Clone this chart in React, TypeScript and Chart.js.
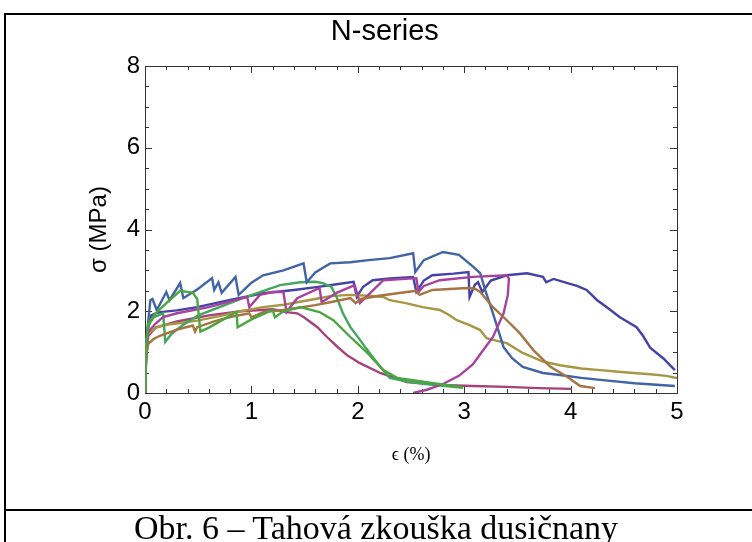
import React, { useEffect, useRef } from "react";
import { Chart, registerables } from "chart.js";

Chart.register(...registerables);

// ---- data (ε in %, σ in MPa) ----
const indigoX = [0, 0.01, 0.03, 0.06, 0.1, 0.14, 0.3, 0.49, 0.8, 1.11, 1.4, 1.61, 1.8, 1.96, 1.99, 2.05, 2.14, 2.3, 2.52, 2.55, 2.62, 2.7, 2.9, 3.04, 3.05, 3.1, 3.13, 3.17, 3.25, 3.4, 3.59, 3.74, 3.77, 3.84, 3.97, 4.06, 4.15, 4.25, 4.35, 4.46, 4.62, 4.68, 4.75, 4.87, 4.98];
const indigoY = [0, 1.0, 1.6, 1.9, 1.95, 1.98, 2.02, 2.1, 2.28, 2.44, 2.52, 2.59, 2.66, 2.72, 2.35, 2.6, 2.76, 2.8, 2.84, 2.47, 2.75, 2.88, 2.92, 2.96, 2.35, 2.65, 2.71, 2.47, 2.75, 2.88, 2.93, 2.84, 2.71, 2.79, 2.69, 2.62, 2.52, 2.27, 2.08, 1.86, 1.61, 1.4, 1.1, 0.85, 0.56];

const maroonX = [0, 0.01, 0.03, 0.1, 0.3, 0.6, 0.9, 1.2, 1.33, 1.43, 1.49, 1.62, 1.71, 1.8, 1.9, 2.02, 2.21, 2.46, 2.77, 3.08, 3.4, 3.7, 4.01];
const maroonY = [0, 0.9, 1.4, 1.6, 1.75, 1.9, 2.0, 2.05, 1.98, 1.95, 1.86, 1.61, 1.37, 1.15, 0.92, 0.73, 0.49, 0.27, 0.2, 0.17, 0.15, 0.12, 0.1];

const oliveX = [0, 0.01, 0.03, 0.1, 0.2, 0.35, 0.49, 0.7, 0.9, 1.11, 1.3, 1.43, 1.6, 1.74, 1.93, 2.1, 2.24, 2.3, 2.45, 2.61, 2.77, 2.85, 2.93, 3.05, 3.15, 3.21, 3.3, 3.4, 3.55, 3.74, 3.9, 4.1, 4.28, 4.45, 4.59, 4.75, 4.9, 4.97, 5.0];
const oliveY = [0, 1.0, 1.45, 1.6, 1.67, 1.72, 1.77, 1.88, 2.0, 2.1, 2.16, 2.22, 2.3, 2.37, 2.4, 2.38, 2.35, 2.27, 2.2, 2.1, 2.03, 1.92, 1.78, 1.66, 1.54, 1.34, 1.28, 1.22, 0.98, 0.77, 0.68, 0.6, 0.56, 0.52, 0.49, 0.46, 0.42, 0.38, 0.37];

const greenAX = [0, 0.01, 0.03, 0.08, 0.17, 0.19, 0.25, 0.35, 0.5, 0.7, 0.9, 1.08, 1.27, 1.46, 1.6, 1.67, 1.75, 1.8, 1.86, 1.93, 2.02, 2.11, 2.21, 2.3, 2.49, 2.7, 2.99];
const greenAY = [0, 1.1, 1.65, 1.85, 1.95, 1.25, 1.45, 1.65, 1.9, 2.1, 2.3, 2.47, 2.64, 2.71, 2.72, 2.69, 2.6, 2.35, 1.95, 1.61, 1.3, 0.98, 0.64, 0.37, 0.27, 0.2, 0.13];

const blueX = [0, 0.02, 0.05, 0.07, 0.11, 0.2, 0.23, 0.33, 0.36, 0.5, 0.63, 0.65, 0.69, 0.72, 0.85, 0.88, 1.0, 1.11, 1.3, 1.49, 1.52, 1.6, 1.74, 1.93, 2.1, 2.3, 2.52, 2.54, 2.62, 2.8, 2.95, 3.08, 3.15, 3.2, 3.27, 3.37, 3.45, 3.55, 3.74, 3.9, 4.1, 4.28, 4.6, 4.98];
const blueY = [0, 1.5, 2.27, 2.3, 2.03, 2.47, 2.27, 2.69, 2.32, 2.55, 2.81, 2.52, 2.71, 2.45, 2.84, 2.4, 2.7, 2.88, 3.0, 3.17, 2.71, 2.95, 3.17, 3.2, 3.25, 3.3, 3.42, 2.96, 3.25, 3.45, 3.38, 3.1, 2.93, 2.5, 1.95, 1.12, 0.85, 0.64, 0.49, 0.44, 0.37, 0.32, 0.24, 0.17];

const magentaX = [0, 0.01, 0.03, 0.1, 0.17, 0.3, 0.6, 0.96, 0.98, 1.08, 1.2, 1.3, 1.33, 1.43, 1.64, 1.66, 1.8, 1.97, 2.02, 2.24, 2.55, 2.57, 2.62, 2.77, 3.08, 3.4, 3.42, 3.41, 3.37, 3.27, 3.15, 3.08, 2.95, 2.8, 2.65, 2.52];
const magentaY = [0, 1.0, 1.5, 1.7, 1.86, 1.95, 2.1, 2.35, 2.1, 2.4, 2.47, 2.47, 1.98, 2.32, 2.57, 2.22, 2.45, 2.64, 2.2, 2.76, 2.81, 2.47, 2.62, 2.76, 2.84, 2.88, 2.8, 2.4, 1.95, 1.37, 0.95, 0.7, 0.42, 0.22, 0.08, 0.0];

const brownX = [0, 0.01, 0.03, 0.08, 0.14, 0.3, 0.45, 0.47, 0.49, 0.65, 0.8, 0.98, 1.0, 1.11, 1.3, 1.43, 1.6, 1.74, 1.93, 1.98, 2.03, 2.2, 2.46, 2.55, 2.58, 2.7, 3.03, 3.1, 3.15, 3.27, 3.4, 3.52, 3.65, 3.81, 3.97, 4.09, 4.23];
const brownY = [0, 0.9, 1.2, 1.32, 1.4, 1.55, 1.65, 1.5, 1.61, 1.75, 1.86, 1.95, 1.85, 1.98, 2.03, 2.08, 2.15, 2.22, 2.32, 2.2, 2.3, 2.38, 2.47, 2.5, 2.4, 2.52, 2.57, 2.55, 2.47, 2.1, 1.78, 1.47, 1.05, 0.64, 0.39, 0.17, 0.12];

const greenBX = [0, 0.01, 0.03, 0.1, 0.2, 0.33, 0.45, 0.49, 0.52, 0.6, 0.75, 0.86, 0.87, 1.0, 1.2, 1.22, 1.3, 1.46, 1.64, 1.77, 1.93, 2.09, 2.24, 2.37, 2.55, 2.71, 2.99];
const greenBY = [0, 1.2, 1.7, 1.95, 2.2, 2.5, 2.45, 2.3, 1.5, 1.6, 1.82, 1.98, 1.61, 1.8, 2.03, 1.85, 2.0, 2.1, 1.98, 1.78, 1.37, 0.98, 0.56, 0.37, 0.3, 0.24, 0.14];

const seriesColors = ["#4442a6", "#a6427b", "#a69742", "#42a65c", "#4263a6", "#a6429e", "#a67342", "#4ba642"];
const seriesXs = [indigoX, maroonX, oliveX, greenAX, blueX, magentaX, brownX, greenBX];
const seriesYs = [indigoY, maroonY, oliveY, greenAY, blueY, magentaY, brownY, greenBY];

const chartTitle = "N-series";
const xTitle = "ϵ (%)";
const yTitle = "σ (MPa)";
const caption = "Obr. 6 – Tahová zkouška dusičnany";

const SANS = '"Liberation Sans", Arial, Helvetica, sans-serif';
const SERIF = '"Liberation Serif", "Times New Roman", serif';

const frameTicks = {
  id: "frameTicks",
  beforeDatasetsDraw(chart: any) {
    const { ctx, chartArea: a, scales } = chart;
    const xs = scales.x;
    const ys = scales.y;
    ctx.save();
    ctx.strokeStyle = "#333";
    ctx.lineWidth = 1;
    ctx.strokeRect(Math.round(a.left) + 0.5, Math.round(a.top) + 0.5, Math.round(a.right - a.left), Math.round(a.bottom - a.top));
    ctx.beginPath();
    for (let i = 0; i <= 25; i++) {
      const v = i * 0.2;
      const px = Math.round(xs.getPixelForValue(v)) + 0.5;
      const len = i % 5 === 0 ? 7 : 4;
      ctx.moveTo(px, a.bottom);
      ctx.lineTo(px, a.bottom - len);
      ctx.moveTo(px, a.top);
      ctx.lineTo(px, a.top + len);
    }
    for (let i = 0; i <= 16; i++) {
      const v = i * 0.5;
      const py = Math.round(ys.getPixelForValue(v)) + 0.5;
      const len = i % 4 === 0 ? 7 : 4;
      ctx.moveTo(a.left, py);
      ctx.lineTo(a.left + len, py);
      ctx.moveTo(a.right, py);
      ctx.lineTo(a.right - len, py);
    }
    ctx.stroke();
    ctx.restore();
  },
};

export default function App() {
  const ref = useRef<HTMLCanvasElement>(null);
  useEffect(() => {
    const datasets = seriesXs.map((xs, i) => ({
      label: "N" + (i + 1),
      data: xs.map((x, j) => ({ x, y: seriesYs[i][j] })),
      borderColor: seriesColors[i],
      backgroundColor: seriesColors[i],
      borderWidth: 2.4,
      pointRadius: 0,
      showLine: true,
      tension: 0,
      order: 8 - i,
    }));
    const chart = new Chart(ref.current as HTMLCanvasElement, {
      type: "scatter",
      data: { datasets },
      plugins: [frameTicks],
      options: {
        responsive: false,
        animation: false,
        devicePixelRatio: 1,
        layout: { padding: { left: 92.6, right: 75, top: 0, bottom: 44.2 } },
        plugins: {
          legend: { display: false },
          tooltip: { enabled: false },
          title: {
            display: true,
            text: chartTitle,
            color: "#000",
            font: { family: SANS, size: 29, weight: "normal" },
            padding: { top: 14.6, bottom: 16.6 },
          },
        },
        scales: {
          x: {
            type: "linear",
            min: 0,
            max: 5,
            ticks: { stepSize: 1, color: "#000", padding: 5, font: { family: SANS, size: 24 } },
            grid: { display: false, drawTicks: false },
            border: { display: false },
            title: {
              display: true,
              text: xTitle,
              color: "#000",
              font: { family: SERIF, size: 18 },
              padding: { top: 12.4, bottom: 0 },
            },
          },
          y: {
            type: "linear",
            min: 0,
            max: 8,
            ticks: { stepSize: 2, color: "#000", padding: 5, font: { family: SANS, size: 24 } },
            grid: { display: false, drawTicks: false },
            border: { display: false },
            title: {
              display: true,
              text: yTitle,
              color: "#000",
              font: { family: SANS, size: 24 },
              padding: { top: -8, bottom: 8.3 },
            },
          },
        },
      },
    } as any);
    return () => chart.destroy();
  }, []);

  return (
    <div style={{ position: "fixed", left: 0, top: 0, width: 752, height: 542, background: "#fff", overflow: "hidden" }}>
      <canvas ref={ref} width={752} height={510} style={{ position: "absolute", left: 0, top: 0, width: 752, height: 510 }} />
      <div style={{ position: "absolute", left: 4, top: 13, width: 2, height: 529, background: "#000" }} />
      <div style={{ position: "absolute", left: 4, top: 13, width: 748, height: 2, background: "#000" }} />
      <div style={{ position: "absolute", left: 4, top: 509, width: 748, height: 2, background: "#000" }} />
      <div
        style={{
          position: "absolute",
          left: 0,
          top: 511,
          width: 752,
          textAlign: "center",
          fontFamily: SERIF,
          fontSize: 34,
          lineHeight: "34px",
          color: "#000",
          whiteSpace: "nowrap",
        }}
      >
        {caption}
      </div>
    </div>
  );
}
